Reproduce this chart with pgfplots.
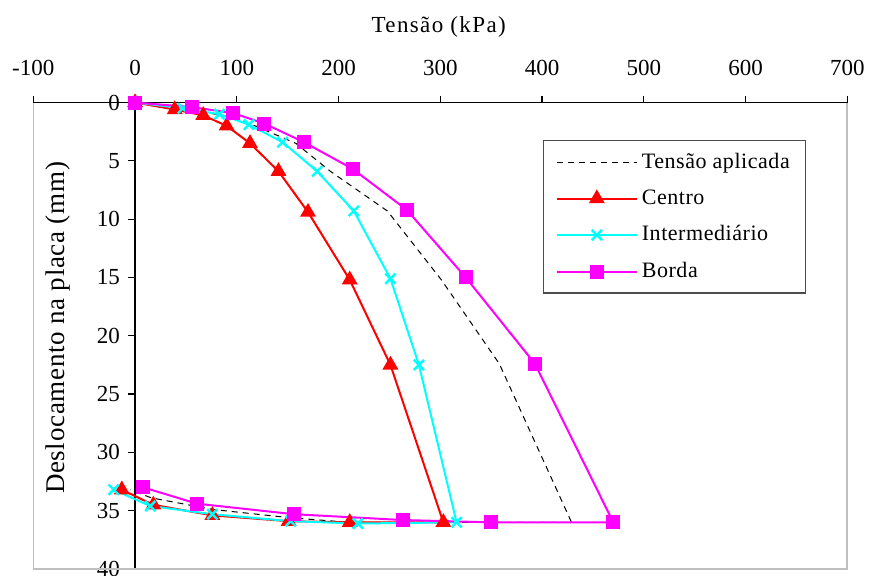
\documentclass[border=0pt]{standalone}
\usepackage{fontspec}
\setmainfont{Liberation Serif}
\newfontfamily\titlefont[LetterSpace=6]{Liberation Serif}
\newfontfamily\ylabfont[LetterSpace=2.5]{Liberation Serif}
\newfontfamily\legfont[LetterSpace=2.5]{Liberation Serif}
\usepackage{pgfplots}
\pgfplotsset{compat=1.18}
\definecolor{cRed}{RGB}{255,0,0}
\definecolor{cCyan}{RGB}{0,255,255}
\definecolor{cMag}{RGB}{255,0,255}
\begin{document}
\fontsize{11.5pt}{13.5pt}\selectfont
\begin{tikzpicture}
\begin{axis}[
  at={(0,0)}, anchor=south west,
  scale only axis, width=407pt, height=233.25pt,
  xmin=-100, xmax=700, ymin=0, ymax=40, y dir=reverse,
  axis x line*=top, axis y line*=middle,
  xtick={-100,0,...,700}, ytick={0,5,...,40},
  tick align=outside, major tick length=3.5pt,
  xticklabel pos=upper,
  xticklabel style={yshift=6pt},
  hide obscured x ticks=false, hide obscured y ticks=false,
  /pgf/number format/assume math mode=true,
  tick label style={font=\fontsize{11.5pt}{13.5pt}\selectfont},
  axis line style={black, line width=0.6pt, -},
  every inner y axis line/.append style={-},
  tick style={black, line width=0.6pt},
  clip=false,
  legend style={at={(axis description cs:0.6265,0.919)}, anchor=north west,
    draw=black!70, line width=0.6pt, inner xsep=6pt, inner ysep=4pt,
    row sep=5pt, font=\legfont\fontsize{11pt}{13pt}\selectfont},
  legend cell align=left,
  legend image code/.code={\draw[mark repeat=2,mark phase=2,#1] plot coordinates {(0pt,0pt) (20pt,0pt) (40pt,0pt)};},
]
\draw[black!25, line width=0.8pt] (axis description cs:0,1) -- (axis description cs:0,0) -- (axis description cs:1,0) -- (axis description cs:1,1);
\addplot[black, line width=0.5pt, dash pattern=on 3pt off 2.5pt] coordinates {
(0,0) (50,0.5) (90,1.2) (118,2.0) (158,3.5) (192,5.9) (248,9.3) (301,15.2) (358,22.4) (429,36)
(262,36) (211,36) (152,35.6) (77,34.9) (16,33.9) (-5,33.2)};
\addlegendentry{Tensão aplicada}
\addplot[cRed, line width=1pt, mark=triangle*, mark size=3.6pt, mark options={solid}] coordinates {
(0,0) (39,0.6) (67,1.1) (90,2.0) (113,3.5) (141,5.9) (170,9.4) (211,15.2) (251,22.5) (303,36)
(211,36) (151,35.9) (76,35.4) (18,34.5) (-13,33.2)};
\addlegendentry{Centro}
\addplot[cCyan, line width=1pt, mark=x, mark size=3.6pt, mark options={solid, line width=1.2pt}] coordinates {
(0,0) (47,0.5) (83,1.0) (112,1.9) (145,3.4) (179,5.9) (215,9.3) (251,15.1) (279,22.5) (316,36)
(219,36.1) (153,35.9) (76,35.3) (15,34.6) (-21,33.2)};
\addlegendentry{Intermediário}
\addplot[cMag, line width=1pt, mark=square*, mark size=3pt, mark options={solid}] coordinates {
(0,0) (56,0.4) (96,0.9) (127,1.8) (166,3.4) (214,5.7) (267,9.2) (325,15.0) (393,22.4) (470,36)
(350,36) (263,35.8) (156,35.3) (61,34.4) (8,33.0)};
\addlegendentry{Borda}
\end{axis}
\node[rotate=90, font=\ylabfont\fontsize{13.5pt}{15pt}\selectfont] at (12.5pt,120.5pt) {Deslocamento na placa (mm)};
\node[font=\titlefont\fontsize{11.5pt}{13.5pt}\selectfont] at (202.7pt,271pt) {Tensão (kPa)};
\pgfresetboundingbox
\path[use as bounding box] (-16.65pt,-3pt) rectangle (417.85pt,284.5pt);
\end{tikzpicture}
\end{document}
